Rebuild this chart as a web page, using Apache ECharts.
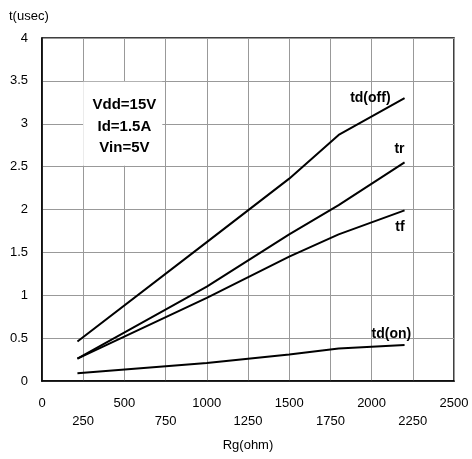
<!DOCTYPE html>
<html>
<head>
<meta charset="utf-8">
<script src="https://cdn.jsdelivr.net/npm/echarts@6/dist/echarts.min.js"></script>
<style>html,body{margin:0;padding:0;background:#fff}#c{width:472px;height:459px}</style>
</head>
<body>
<div id="c"></div>
<script>
const rg = [215, 1000, 1500, 1800, 2200];
const tdOff = [0.46, 1.62, 2.36, 2.87, 3.30];
const tr = [0.26, 1.10, 1.71, 2.05, 2.55];
const tf = [0.26, 0.97, 1.45, 1.71, 1.99];
const tdOn = [0.09, 0.21, 0.31, 0.38, 0.42];
const seriesNames = ['td(off)', 'tr', 'tf', 'td(on)'];
const seriesValues = [tdOff, tr, tf, tdOn];
// label anchor in data coords [x, y] (right edge of text, middle)
const labelAnchors = [[2115, 3.30], [2200, 2.70], [2200, 1.80], [2240, 0.55]];
const noteLines = ['Vdd=15V', 'Id=1.5A', 'Vin=5V'];

const chart = echarts.init(document.getElementById('c'));
const font = 'Liberation Sans, Arial, sans-serif';
const option = {
  animation: false,
  grid: { left: 42, right: 18, top: 38, bottom: 78, show: true, borderColor: '#000', borderWidth: 1.5, backgroundColor: 'transparent' },
  xAxis: {
    type: 'value', min: 0, max: 2500, interval: 250,
    name: 'Rg(ohm)', nameLocation: 'middle', nameGap: 58,
    nameTextStyle: { color: '#000', fontSize: 13, fontFamily: font },
    axisLine: { show: true, lineStyle: { color: '#000', width: 1.5 } },
    axisTick: { show: false },
    splitLine: { show: true, lineStyle: { color: '#999', width: 1 } },
    axisLabel: {
      color: '#000', fontSize: 13, fontFamily: font, margin: 13, lineHeight: 18,
      formatter: v => (v % 500 === 0 ? String(v) : '\n' + v)
    }
  },
  yAxis: {
    type: 'value', min: 0, max: 4, interval: 0.5,
    axisLine: { show: true, lineStyle: { color: '#000', width: 1.5 } },
    axisTick: { show: false },
    splitLine: { show: true, lineStyle: { color: '#999', width: 1 } },
    axisLabel: { color: '#000', fontSize: 13, fontFamily: font, margin: 14 }
  },
  series: seriesNames.map((n, i) => ({
    name: n, type: 'line', symbol: 'none', z: 5,
    lineStyle: { color: '#000', width: 2 },
    data: rg.map((x, j) => [x, seriesValues[i][j]])
  }))
};
chart.setOption(option);

const g = [];
g.push({ type: 'text', left: 9, top: 10, style: { text: 't(usec)', fill: '#000', font: '13px ' + font } });
const p1 = chart.convertToPixel({ gridIndex: 0 }, [250, 3.49]);
const p2 = chart.convertToPixel({ gridIndex: 0 }, [730, 2.51]);
g.push({ type: 'rect', shape: { x: p1[0], y: p1[1], width: p2[0] - p1[0], height: p2[1] - p1[1] }, style: { fill: '#fff' }, z: 3 });
const cx = chart.convertToPixel({ gridIndex: 0 }, [500, 3.22]);
noteLines.forEach((t, i) => {
  g.push({ type: 'text', x: cx[0], y: cx[1] + i * 21.7, z: 4,
    style: { text: t, fill: '#000', font: 'bold 15px ' + font, align: 'center', verticalAlign: 'middle' } });
});
seriesNames.forEach((n, i) => {
  const p = chart.convertToPixel({ gridIndex: 0 }, labelAnchors[i]);
  g.push({ type: 'text', x: p[0], y: p[1], z: 6,
    style: { text: n, fill: '#000', font: 'bold 14px ' + font, align: 'right', verticalAlign: 'middle' } });
});
chart.setOption({ graphic: g });
</script>
</body>
</html>
